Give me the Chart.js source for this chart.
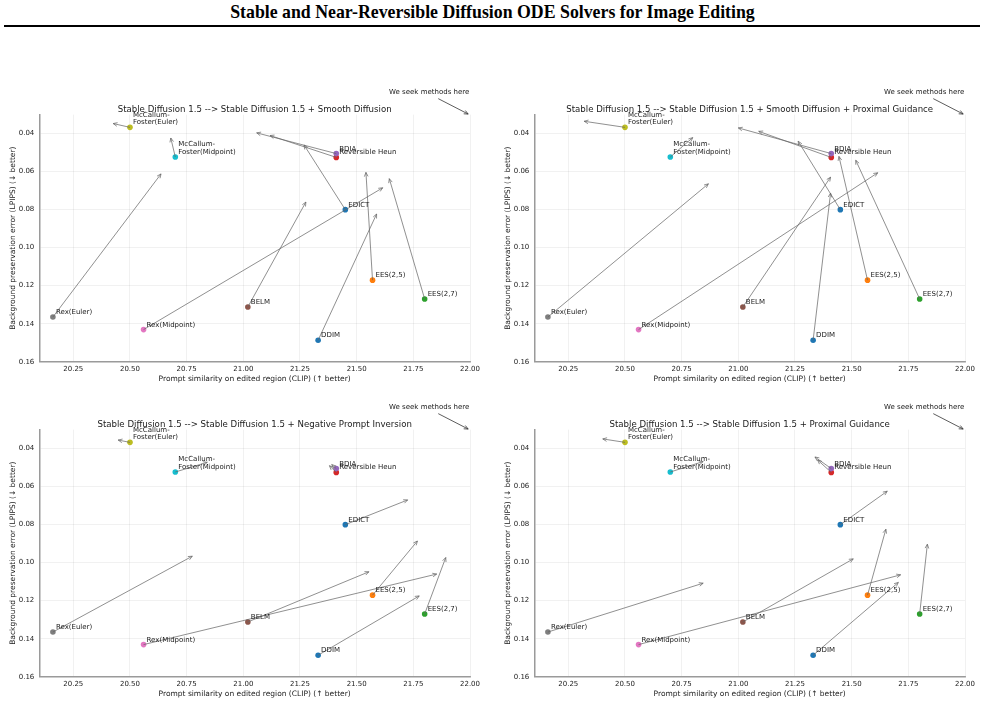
<!DOCTYPE html>
<html>
<head>
<meta charset="utf-8">
<script src="https://cdn.jsdelivr.net/npm/chart.js@4.4.0/dist/chart.umd.min.js"></script>
<style>
  body { margin: 0; background: #fff; width: 985px; height: 718px; overflow: hidden; position: relative; }
  #header { position: absolute; left: 0; top: 2.2px; width: 985px; text-align: center;
            font: bold 17.8px "Liberation Serif", "Times New Roman", serif; color: #000; }
  #rule { position: absolute; left: 4px; top: 24.5px; width: 976px; height: 2px; background: #000; }
  canvas { position: absolute; }
</style>
</head>
<body>
<div id="header">Stable and Near-Reversible Diffusion ODE Solvers for Image Editing</div>
<div id="rule"></div>
<canvas id="smooth" width="490" height="305" style="left:0px;top:80px"></canvas>
<canvas id="smoothProx" width="490" height="305" style="left:495px;top:80px"></canvas>
<canvas id="negPrompt" width="490" height="305" style="left:0px;top:395px"></canvas>
<canvas id="prox" width="490" height="305" style="left:495px;top:395px"></canvas>
<script>
// Methods, in the order they are plotted
const methods = ['DDIM', 'EES(2,5)', 'EES(2,7)', 'Reversible Heun', 'BDIA', 'BELM',
                 'Rex(Midpoint)', 'Rex(Euler)', 'McCallum-Foster(Euler)', 'McCallum-Foster(Midpoint)', 'EDICT'];
const pointLabels = ['DDIM', 'EES(2,5)', 'EES(2,7)', 'Reversible Heun', 'BDIA', 'BELM',
                     'Rex(Midpoint)', 'Rex(Euler)', 'McCallum-\nFoster(Euler)', 'McCallum-\nFoster(Midpoint)', 'EDICT'];
const methodColors = ['#1f77b4', '#ff7f0e', '#2ca02c', '#d62728', '#9467bd', '#8c564b',
                      '#e377c2', '#7f7f7f', '#bcbd22', '#17becf', '#1f77b4'];

// Base model (Stable Diffusion 1.5): CLIP and LPIPS
const baseClip  = [21.33, 21.57, 21.80, 21.41, 21.41, 21.02, 20.56, 20.16, 20.50, 20.70, 21.45];
const baseLpips = [0.1487, 0.1171, 0.1270, 0.0525, 0.0505, 0.1312, 0.1431, 0.1365, 0.0367, 0.0523, 0.0800];

// Where each method moves to (arrow heads), one pair of arrays per panel
const smoothClip  = [21.588, 21.541, 21.644, 21.118, 21.059, 21.276, 21.615, 20.637, 20.426, 20.680, 21.268];
const smoothLpips = [0.0823, 0.0604, 0.0637, 0.0410, 0.0396, 0.0760, 0.0685, 0.0612, 0.0347, 0.0423, 0.0460];

const smoothProxClip  = [21.407, 21.444, 21.518, 21.090, 21.000, 21.407, 21.615, 20.868, 20.320, 20.799, 21.264];
const smoothProxLpips = [0.0713, 0.0520, 0.0540, 0.0388, 0.0370, 0.0629, 0.0606, 0.0664, 0.0335, 0.0421, 0.0440];

const negPromptClip  = [21.776, 21.768, 21.893, 21.380, 21.390, 21.554, 21.853, 20.775, 20.448, 20.841, 21.725];
const negPromptLpips = [0.1175, 0.0886, 0.0973, 0.0490, 0.0484, 0.1048, 0.1060, 0.0966, 0.0355, 0.0472, 0.0670];

const proxClip  = [21.706, 21.651, 21.834, 21.350, 21.338, 21.507, 21.716, 20.845, 20.402, 20.845, 21.657];
const proxLpips = [0.1104, 0.0824, 0.0903, 0.0460, 0.0444, 0.0980, 0.1064, 0.1108, 0.0349, 0.0468, 0.0624];

const xTicks = [20.25, 20.50, 20.75, 21.00, 21.25, 21.50, 21.75, 22.00];
const yTicks = [0.04, 0.06, 0.08, 0.10, 0.12, 0.14, 0.16];

// "We seek methods here" note (data coordinates)
const seekText = 'We seek methods here';
const seekTextPos = [21.82, 0.0184];
const seekArrowFrom = [21.86, 0.0216];
const seekArrowTo = [21.992, 0.0297];

Chart.defaults.font.family = '"DejaVu Sans", sans-serif';
Chart.defaults.color = '#222';

function drawArrow(ctx, x0, y0, x1, y1, color, lw) {
    const ang = Math.atan2(y1 - y0, x1 - x0);
    const len = 4.5, spread = 0.42;
    ctx.strokeStyle = color;
    ctx.lineWidth = lw;
    ctx.beginPath();
    ctx.moveTo(x0, y0);
    ctx.lineTo(x1, y1);
    ctx.moveTo(x1 - len * Math.cos(ang - spread), y1 - len * Math.sin(ang - spread));
    ctx.lineTo(x1, y1);
    ctx.lineTo(x1 - len * Math.cos(ang + spread), y1 - len * Math.sin(ang + spread));
    ctx.stroke();
}

// Arrows, point labels and the corner note
const annotatePlugin = {
    id: 'annotate',
    afterDatasetsDraw(chart) {
        const { ctx, scales: { x, y } } = chart;
        const opts = chart.options.plugins.annotate;
        ctx.save();

        for (let i = 0; i < methods.length; i++) {
            drawArrow(ctx,
                x.getPixelForValue(baseClip[i]), y.getPixelForValue(baseLpips[i]),
                x.getPixelForValue(opts.toClip[i]), y.getPixelForValue(opts.toLpips[i]),
                'rgba(100,100,100,0.9)', 0.8);
        }

        ctx.font = '7px "DejaVu Sans"';
        ctx.fillStyle = '#1a1a1a';
        ctx.textAlign = 'left';
        ctx.textBaseline = 'alphabetic';
        for (let i = 0; i < methods.length; i++) {
            const px = x.getPixelForValue(baseClip[i]) + 3;
            const py = y.getPixelForValue(baseLpips[i]) - 3;
            const lines = pointLabels[i].split('\n');
            lines.forEach((ln, k) => {
                ctx.fillText(ln, px, py - (lines.length - 1 - k) * 7.7);
            });
        }

        // note in the top right corner
        ctx.textAlign = 'center';
        ctx.textBaseline = 'middle';
        ctx.fillText(seekText, x.getPixelForValue(seekTextPos[0]), y.getPixelForValue(seekTextPos[1]));
        drawArrow(ctx,
            x.getPixelForValue(seekArrowFrom[0]), y.getPixelForValue(seekArrowFrom[1]),
            x.getPixelForValue(seekArrowTo[0]), y.getPixelForValue(seekArrowTo[1]),
            '#333', 0.8);

        ctx.restore();
    }
};

function makePanel(canvasId, title, toClip, toLpips) {
    const ctx = document.getElementById(canvasId).getContext('2d');
    return new Chart(ctx, {
        type: 'scatter',
        data: {
            datasets: [{
                data: baseClip.map((c, i) => ({ x: c, y: baseLpips[i] })),
                backgroundColor: methodColors,
                borderWidth: 0,
                pointRadius: 2.8
            }]
        },
        options: {
            responsive: false,
            animation: false,
            events: [],
            layout: { padding: { left: 0, right: 20, top: 24.3, bottom: 0.8 } },
            plugins: {
                legend: { display: false },
                tooltip: { enabled: false },
                title: {
                    display: true,
                    text: title,
                    fullSize: false,
                    color: '#1a1a1a',
                    font: { size: 8.6, weight: 'normal' },
                    padding: { top: 0, bottom: 0 }
                },
                annotate: { toClip: toClip, toLpips: toLpips }
            },
            scales: {
                x: {
                    type: 'linear',
                    min: 20.10,
                    max: 22.00,
                    afterBuildTicks: (scale) => { scale.ticks = xTicks.map(v => ({ value: v })); },
                    afterFit: (scale) => { scale.height = 22.5; },
                    ticks: {
                        font: { size: 7 },
                        color: '#222',
                        padding: 3.3,
                        maxRotation: 0,
                        callback: (v) => v.toFixed(2)
                    },
                    grid: { color: 'rgba(0,0,0,0.07)', lineWidth: 0.8, drawTicks: false },
                    border: { color: '#9a9a9a', width: 1.5 },
                    title: {
                        display: true,
                        text: 'Prompt similarity on edited region (CLIP) (\u2191 better)',
                        color: '#1a1a1a',
                        font: { size: 7.5 },
                        padding: { top: 0, bottom: 1 }
                    }
                },
                y: {
                    type: 'linear',
                    reverse: true,
                    min: 0.03,
                    max: 0.16,
                    afterBuildTicks: (scale) => { scale.ticks = yTicks.map(v => ({ value: v })); },
                    afterFit: (scale) => { scale.width = 39.3; },
                    ticks: {
                        font: { size: 7 },
                        color: '#222',
                        padding: 5,
                        callback: (v) => v.toFixed(2)
                    },
                    grid: { color: 'rgba(0,0,0,0.07)', lineWidth: 0.8, drawTicks: false },
                    border: { color: '#9a9a9a', width: 1.5 },
                    title: {
                        display: true,
                        text: 'Background preservation error (LPIPS) (\u2193 better)',
                        color: '#1a1a1a',
                        font: { size: 7.5 },
                        padding: { top: 8.2, bottom: 0 }
                    }
                }
            }
        },
        plugins: [annotatePlugin]
    });
}

makePanel('smooth', 'Stable Diffusion 1.5 --> Stable Diffusion 1.5 + Smooth Diffusion', smoothClip, smoothLpips);
makePanel('smoothProx', 'Stable Diffusion 1.5 --> Stable Diffusion 1.5 + Smooth Diffusion + Proximal Guidance', smoothProxClip, smoothProxLpips);
makePanel('negPrompt', 'Stable Diffusion 1.5 --> Stable Diffusion 1.5 + Negative Prompt Inversion', negPromptClip, negPromptLpips);
makePanel('prox', 'Stable Diffusion 1.5 --> Stable Diffusion 1.5 + Proximal Guidance', proxClip, proxLpips);
</script>
</body>
</html>
